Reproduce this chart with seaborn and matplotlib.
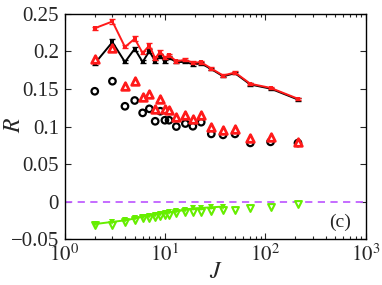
import numpy as np
import pandas as pd
import matplotlib
matplotlib.use("Agg")
import matplotlib.pyplot as plt
import seaborn as sns
from matplotlib.ticker import LogLocator, NullFormatter, FixedLocator

J = [2, 3, 4, 5, 6, 7, 8, 9, 10, 11, 13, 16, 19, 23, 29, 38, 50, 71, 113, 212]
red_line = [0.231, 0.240, 0.206, 0.217, 0.198, 0.208, 0.191, 0.1996, 0.1916, 0.195,
            0.187, 0.189, 0.185, 0.1857, 0.1773, 0.168, 0.172, 0.157, 0.1515, 0.137]
black_line = [0.184, 0.2125, 0.186, 0.2036, 0.186, 0.2005, 0.187, 0.194, 0.187, 0.1916,
              0.186, 0.186, 0.183, 0.184, 0.1765, 0.167, 0.171, 0.156, 0.1505, 0.136]
red_err = [0.002, 0.003, 0.002, 0.003, 0.002, 0.003, 0.002, 0.003, 0.002, 0.002,
           0.002, 0.002, 0.002, 0.002, 0.0015, 0.0015, 0.0015, 0.0015, 0.0015, 0.0015]
black_err = [0.002, 0.004, 0.002, 0.003, 0.002, 0.003, 0.002, 0.003, 0.002, 0.002,
             0.002, 0.002, 0.002, 0.002, 0.0015, 0.0015, 0.0015, 0.0015, 0.0015, 0.0015]
black_circ = [0.147, 0.1604, 0.127, 0.1347, 0.1182, 0.1236, 0.107, 0.1204, 0.1084, 0.1084,
              0.100, 0.104, 0.1004, 0.1058, 0.0902, 0.0889, 0.0902, 0.0782, 0.0796, 0.078]
red_tri = [0.190, 0.204, 0.1538, 0.1613, 0.1396, 0.144, 0.124, 0.1373, 0.124, 0.1218,
           0.1129, 0.116, 0.110, 0.1151, 0.099, 0.096, 0.0969, 0.0849, 0.0862, 0.080]
J_green = [2, 3, 4, 5, 6, 7, 8, 9, 10, 11, 13, 16, 19, 23, 29, 38]
green_line = [-0.030, -0.027, -0.025, -0.0225, -0.020, -0.019, -0.0175, -0.016, -0.015,
              -0.0145, -0.013, -0.011, -0.009, -0.0085, -0.0076, -0.0067]
green_open = [-0.031, -0.031, -0.027, -0.025, -0.022, -0.022, -0.0205, -0.019, -0.018,
              -0.0178, -0.015, -0.0135, -0.0142, -0.0133, -0.0124, -0.011, -0.011,
              -0.008, -0.0067, -0.0036]

xticks = [1, 10, 100, 1000]
xticklabels = ["$10^{0}$", "$10^{1}$", "$10^{2}$", "$10^{3}$"]
yticks = [-0.05, 0, 0.05, 0.1, 0.15, 0.2, 0.25]
yticklabels = ["\u22120.05", "0", "0.05", "0.1", "0.15", "0.2", "0.25"]

sns.set_style("ticks")
plt.rcParams["font.family"] = ["Liberation Serif", "DejaVu Serif"]
plt.rcParams["mathtext.fontset"] = "stix"

fig = plt.figure(figsize=(3.82, 2.85), dpi=100)
ax = fig.add_axes([0.169, 0.161, 0.788, 0.790])

RED = "#ff1a1a"
GREEN = "#66ee00"
PURPLE = "#c060ff"

df = pd.DataFrame({"J": J, "red": red_line, "black": black_line,
                   "circ": black_circ, "tri": red_tri, "gopen": green_open})
dg = pd.DataFrame({"J": J_green, "g": green_line})

ax.axhline(0, color=PURPLE, lw=1.3, ls=(0, (4, 3)), zorder=1)

# black line with error bars
ax.errorbar(J, black_line, yerr=black_err, fmt="none", ecolor="black",
            elinewidth=1.0, capsize=2.5, capthick=1.0, zorder=2)
sns.lineplot(data=df, x="J", y="black", ax=ax, color="black", lw=1.4,
             marker="s", markersize=3.5, markeredgewidth=0, zorder=2)

# red line with error bars
ax.errorbar(J, red_line, yerr=red_err, fmt="none", ecolor=RED,
            elinewidth=1.0, capsize=2.5, capthick=1.0, zorder=3)
sns.lineplot(data=df, x="J", y="red", ax=ax, color=RED, lw=1.4,
             marker="s", markersize=3.5, markeredgewidth=0, zorder=3)

# open markers
sns.scatterplot(data=df, x="J", y="circ", ax=ax, marker="o", s=22,
                facecolor="none", edgecolor="black", linewidth=1.6, zorder=4)
sns.scatterplot(data=df, x="J", y="tri", ax=ax, marker="^", s=30,
                facecolor="white", edgecolor=RED, linewidth=2.0, zorder=5)

# green
sns.scatterplot(data=df, x="J", y="gopen", ax=ax, marker="v", s=24,
                facecolor="white", edgecolor=GREEN, linewidth=1.5, zorder=4)
sns.lineplot(data=dg, x="J", y="g", ax=ax, color=GREEN, lw=1.4,
             marker="v", markersize=5, markeredgewidth=0, zorder=5)

ax.set_xscale("log")
ax.set_xlim(1, 1000)
ax.set_ylim(-0.05, 0.25)
ax.set_xticks(xticks)
ax.set_xticklabels(xticklabels, fontsize=15)
ax.xaxis.set_minor_locator(LogLocator(base=10, subs=np.arange(2, 10), numticks=20))
ax.xaxis.set_minor_formatter(NullFormatter())
ax.set_yticks(yticks)
ax.set_yticklabels(yticklabels, fontsize=15)
ax.yaxis.set_minor_locator(FixedLocator([]))

ax.tick_params(which="both", direction="in", top=True, right=True, width=0.8)
ax.tick_params(which="major", length=4, pad=4)
ax.tick_params(which="minor", length=2)
for s in ax.spines.values():
    s.set_linewidth(1.0)
    s.set_color("black")

ax.set_xlabel("")
ax.set_ylabel("")
fig.text(216 / 382, 1 - 272 / 285, "$J$", fontsize=17, ha="center", va="center")
fig.text(15 / 382, 1 - 125 / 285, "$R$", fontsize=17, ha="center", va="center",
         rotation=90)
ax.text(0.95, 0.075, "(c)", transform=ax.transAxes, fontsize=14,
        ha="right", va="center")

if ax.get_legend() is not None:
    ax.get_legend().remove()

fig.savefig("out.png", dpi=100)
